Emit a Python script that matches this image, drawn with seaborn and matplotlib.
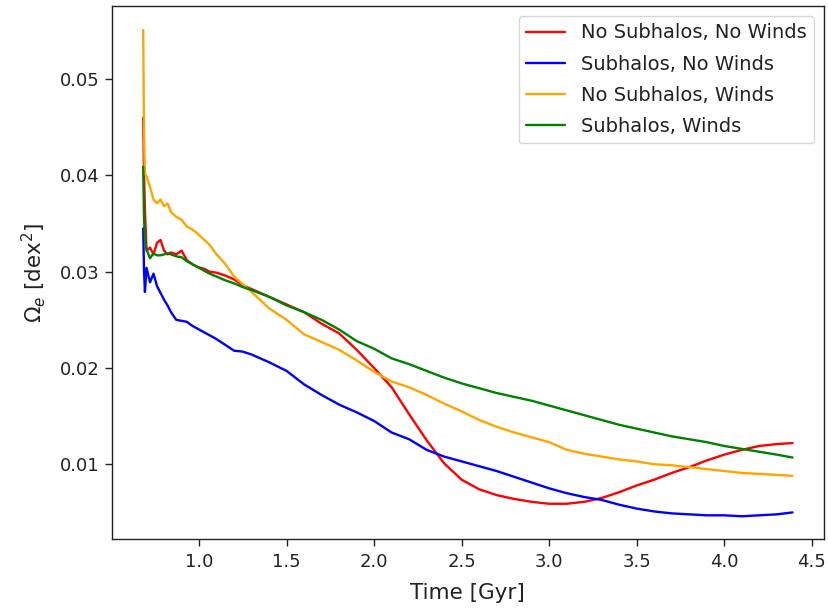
import numpy as np
import pandas as pd
import matplotlib
matplotlib.use("Agg")
import matplotlib.pyplot as plt
import seaborn as sns

# Time grid [Gyr] shared by the four runs
time_gyr = [0.681, 0.686, 0.691, 0.70, 0.72, 0.74, 0.76, 0.78, 0.80, 0.82,
            0.84, 0.87, 0.90, 0.93, 0.96, 0.99, 1.03, 1.06, 1.10, 1.15,
            1.20, 1.25, 1.30, 1.40, 1.50, 1.60, 1.70, 1.80, 1.90, 2.00,
            2.10, 2.20, 2.30, 2.40, 2.50, 2.60, 2.70, 2.80, 2.90, 3.00,
            3.10, 3.20, 3.30, 3.40, 3.50, 3.60, 3.70, 3.80, 3.90, 4.00,
            4.10, 4.20, 4.30, 4.39]

# Omega_e [dex^2] for each run
no_sub_no_winds = [0.0460, 0.0400, 0.0364, 0.0322, 0.0325, 0.0318, 0.0330, 0.0333, 0.0322, 0.0318,
                   0.0320, 0.0318, 0.0322, 0.0312, 0.0308, 0.0305, 0.0303, 0.0300, 0.0299, 0.0296,
                   0.0292, 0.0286, 0.0282, 0.0274, 0.0266, 0.0258, 0.0246, 0.0236, 0.0219, 0.0200,
                   0.0180, 0.0152, 0.0125, 0.0101, 0.0084, 0.0074, 0.0068, 0.0064, 0.0061, 0.0059,
                   0.0059, 0.0061, 0.0065, 0.0071, 0.0078, 0.0084, 0.0091, 0.0097, 0.0104, 0.0110,
                   0.0115, 0.0119, 0.0121, 0.0122]

sub_no_winds = [0.0345, 0.0300, 0.0279, 0.0304, 0.0289, 0.0298, 0.0285, 0.0278, 0.0271, 0.0265,
                0.0258, 0.0250, 0.0249, 0.0248, 0.0244, 0.0241, 0.0237, 0.0234, 0.0230, 0.0224,
                0.0218, 0.0217, 0.0214, 0.0206, 0.0197, 0.0183, 0.0172, 0.0162, 0.0154, 0.0145,
                0.0133, 0.0126, 0.0115, 0.0108, 0.0103, 0.0098, 0.0093, 0.0087, 0.0081, 0.0075,
                0.0070, 0.0066, 0.0063, 0.0058, 0.0054, 0.0051, 0.0049, 0.0048, 0.0047, 0.0047,
                0.0046, 0.0047, 0.0048, 0.0050]

no_sub_winds = [0.0551, 0.0440, 0.0402, 0.0399, 0.0388, 0.0375, 0.0371, 0.0375, 0.0368, 0.0371,
                0.0362, 0.0357, 0.0354, 0.0347, 0.0344, 0.0340, 0.0333, 0.0328, 0.0318, 0.0308,
                0.0295, 0.0287, 0.0279, 0.0262, 0.0250, 0.0235, 0.0227, 0.0219, 0.0208, 0.0196,
                0.0186, 0.0180, 0.0172, 0.0163, 0.0155, 0.0146, 0.0139, 0.0133, 0.0128, 0.0123,
                0.0115, 0.0111, 0.0108, 0.0105, 0.0103, 0.0100, 0.0099, 0.0097, 0.0095, 0.0093,
                0.0091, 0.0090, 0.0089, 0.0088]

sub_winds = [0.0409, 0.0354, 0.0335, 0.0323, 0.0314, 0.0319, 0.0317, 0.0317, 0.0318, 0.0319,
             0.0318, 0.0316, 0.0315, 0.0311, 0.0308, 0.0305, 0.0301, 0.0298, 0.0295, 0.0291,
             0.0288, 0.0284, 0.0281, 0.0274, 0.0265, 0.0258, 0.0250, 0.0240, 0.0228, 0.0220,
             0.0210, 0.0204, 0.0197, 0.0190, 0.0184, 0.0179, 0.0174, 0.0170, 0.0166, 0.0161,
             0.0156, 0.0151, 0.0146, 0.0141, 0.0137, 0.0133, 0.0129, 0.0126, 0.0123, 0.0119,
             0.0116, 0.0113, 0.0110, 0.0107]

run_labels = ["No Subhalos, No Winds", "Subhalos, No Winds",
              "No Subhalos, Winds", "Subhalos, Winds"]
run_colors = ["red", "blue", "orange", "green"]
run_values = [no_sub_no_winds, sub_no_winds, no_sub_winds, sub_winds]

df = pd.concat(
    [pd.DataFrame({"time": time_gyr, "omega": vals, "run": lab})
     for lab, vals in zip(run_labels, run_values)],
    ignore_index=True,
)

sns.set_theme(style="ticks")
plt.rcParams["font.family"] = ["DejaVu Sans"]
plt.rcParams["text.color"] = "#222222"
plt.rcParams["axes.labelcolor"] = "#222222"
plt.rcParams["xtick.color"] = "#222222"
plt.rcParams["ytick.color"] = "#222222"

fig = plt.figure(figsize=(8.29, 6.10), dpi=100)
ax = fig.add_axes([0.1347, 0.1164, 0.8593, 0.8738])

for lab, col in zip(run_labels, run_colors):
    sns.lineplot(data=df[df["run"] == lab], x="time", y="omega",
                 color=col, linewidth=1.7, label=lab, ax=ax,
                 estimator=None, sort=False)

ax.set_xlim(0.501, 4.57)
ax.set_ylim(0.00224, 0.0576)
ax.set_xticks([1.0, 1.5, 2.0, 2.5, 3.0, 3.5, 4.0, 4.5])
ax.set_yticks([0.01, 0.02, 0.03, 0.04, 0.05])
ax.tick_params(labelsize=13, length=5, width=1.0)
ax.tick_params(axis="x", pad=5)
for s in ax.spines.values():
    s.set_linewidth(1.0)
    s.set_color("#222222")

ax.set_xlabel("Time [Gyr]", fontsize=15.5, labelpad=9)
ax.set_ylabel(r"$\Omega_e$ [dex$^2$]", fontsize=15.5, labelpad=9)
ax.legend(loc="upper right", fontsize=14, frameon=True, labelspacing=0.62,
          borderpad=0.4)

fig.savefig("out.png", dpi=100)
